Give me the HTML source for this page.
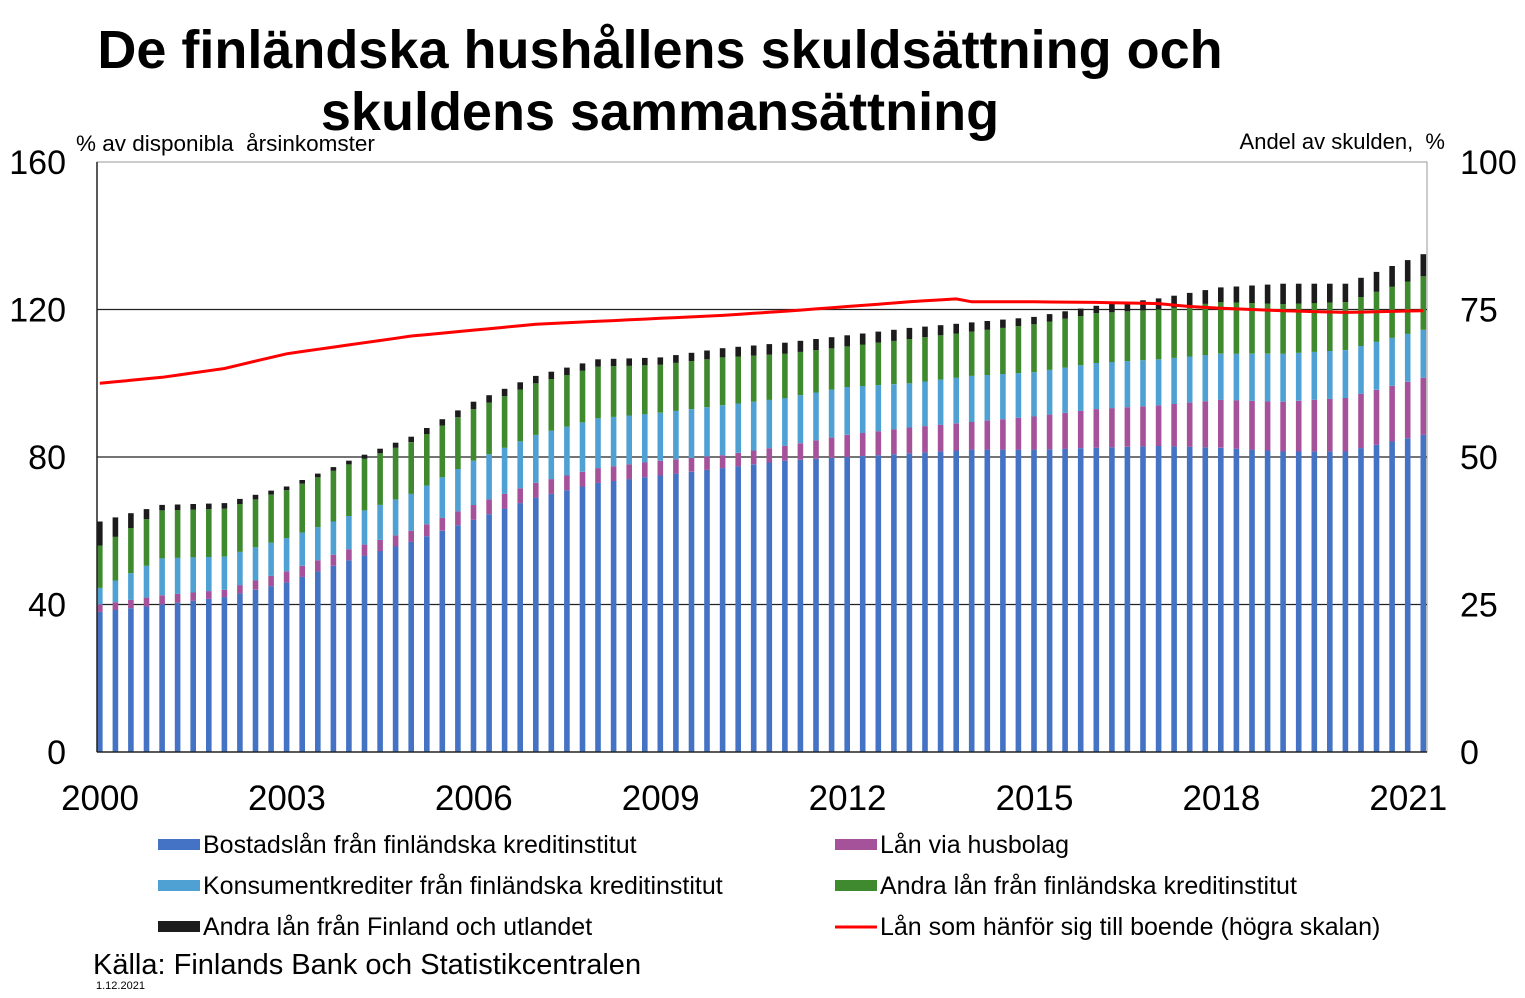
<!DOCTYPE html>
<html><head><meta charset="utf-8"><style>
body{margin:0;background:#fff;font-family:"Liberation Sans",Arial,sans-serif;}
#w{position:relative;width:1525px;height:998px;overflow:hidden;}
.t{position:absolute;white-space:nowrap;color:#000;}
</style></head><body><div id="w">
<div class="t" style="left:0;width:1320px;text-align:center;top:19px;font-size:54px;font-weight:bold;">De finländska hushållens skuldsättning och</div>
<div class="t" style="left:0;width:1320px;text-align:center;top:81px;font-size:54px;font-weight:bold;">skuldens sammansättning</div>
<div class="t" style="left:76px;top:131px;font-size:22.5px;">% av disponibla&nbsp; årsinkomster</div>
<div class="t" style="right:80px;top:129px;font-size:22px;">Andel av skulden,&nbsp; %</div>
<svg id="s" width="1525" height="998" style="position:absolute;left:0;top:0"></svg>
<div class="t" style="left:93px;top:949px;font-size:29px;">Källa: Finlands Bank och Statistikcentralen</div>
<div class="t" style="left:96px;top:980px;font-size:11px;">1.12.2021</div>
</div>
<script>
const K=[2000,2001,2002,2003,2004,2005,2006,2007,2008,2009,2010,2011,2012,2013,2014,2015,2016,2017,2018,2019,2020,2021.25];
const S=[
[38,40,42,46,52,57,63,69,73,75,77,79,80,81,82,82,82.5,83,82.5,81.5,81.5,86],
[40,42.5,44,49,55,60,67,73,77,79,80.5,83,86,88,89.5,91,93,94,95.5,95,96,101.5],
[44.5,52.5,53,58,64,70,79,86,90.5,92,94,96,99,100,102,103,105.5,106.5,108,108,109,114.5],
[56,65.5,66,71,78,84,93,100,104.5,105,107,108,110,112,114,116,119,120,122,121.5,122,129],
[62.5,67,67.5,72,79,85.5,95,102,106.5,107,109.5,111,113,115,116.5,118,121,123,126,127,127,135]];
const C=['#4472c4','#a5529a','#4fa1d3','#3f8a2f','#1c1c1c'];
const RK=[2000,2001,2002,2003,2004,2005,2006,2007,2008,2009,2010,2011,2012,2013,2013.75,2014,2015,2016,2017,2017.5,2018,2019,2020,2021.25];
const RV=[62.5,63.5,65,67.5,69,70.5,71.5,72.5,73,73.5,74,74.7,75.5,76.3,76.8,76.3,76.3,76.2,76,75.5,75.2,74.8,74.5,74.8];
function ip(ks,vs,t){for(let j=0;j<ks.length-1;j++){if(t<=ks[j+1]){const f=(t-ks[j])/(ks[j+1]-ks[j]);return vs[j]+f*(vs[j+1]-vs[j]);}}return vs[vs.length-1];}
const Y=v=>752-v*3.6875;
let h='';
h+='<rect x="97" y="162" width="1330" height="590" fill="none" stroke="#999" stroke-width="1"/>';
[40,80,120].forEach(v=>h+=`<line x1="97" x2="1427" y1="${Y(v)}" y2="${Y(v)}" stroke="#222" stroke-width="1.3"/>`);
for(let i=0;i<86;i++){const t=2000+i/4;const x=97+i*15.57;let prev=0;
for(let k=0;k<5;k++){const v=ip(K,S[k],t);h+=`<rect x="${x.toFixed(1)}" y="${Y(v).toFixed(1)}" width="5.6" height="${((v-prev)*3.6875).toFixed(1)}" fill="${C[k]}"/>`;prev=v;}}
let p='';for(let i=0;i<86;i++){const t=2000+i/4;const x=97+i*15.57+2.8;p+=(i?'L':'M')+x.toFixed(1)+' '+(752-ip(RK,RV,t)*5.9).toFixed(1);}
h+=`<path d="${p}" fill="none" stroke="#f00" stroke-width="3"/>`;
h+='<line x1="97" x2="97" y1="162" y2="752" stroke="#222" stroke-width="1.5"/><line x1="97" x2="1427" y1="752" y2="752" stroke="#222" stroke-width="1.5"/>';
const L=[[160,100],[120,75],[80,50],[40,25],[0,0]];
L.forEach(([a,b])=>{const y=Y(a)+12;h+=`<text x="66" y="${y}" font-size="34" text-anchor="end" font-family="Liberation Sans">${a}</text><text x="1460" y="${y}" font-size="34" font-family="Liberation Sans">${b}</text>`;});
[2000,2003,2006,2009,2012,2015,2018,2021].forEach((yr,i)=>{h+=`<text x="${100+i*186.9}" y="810" font-size="35" text-anchor="middle" font-family="Liberation Sans">${yr}</text>`;});
const LG=[[158,845,C[0],'Bostadslån från finländska kreditinstitut'],[835,845,C[1],'Lån via husbolag'],[158,886,C[2],'Konsumentkrediter från finländska kreditinstitut'],[835,886,C[3],'Andra lån från finländska kreditinstitut'],[158,927,C[4],'Andra lån från Finland och utlandet']];
LG.forEach(([x,y,c,s])=>{h+=`<rect x="${x}" y="${y-6}" width="42" height="11" fill="${c}"/><text x="${x+45}" y="${y+8}" font-size="25" font-family="Liberation Sans">${s}</text>`;});
h+=`<line x1="835" x2="877" y1="927" y2="927" stroke="#f00" stroke-width="3"/><text x="880" y="935" font-size="25" font-family="Liberation Sans">Lån som hänför sig till boende (högra skalan)</text>`;
document.getElementById('s').innerHTML=h;
</script>
</body></html>
